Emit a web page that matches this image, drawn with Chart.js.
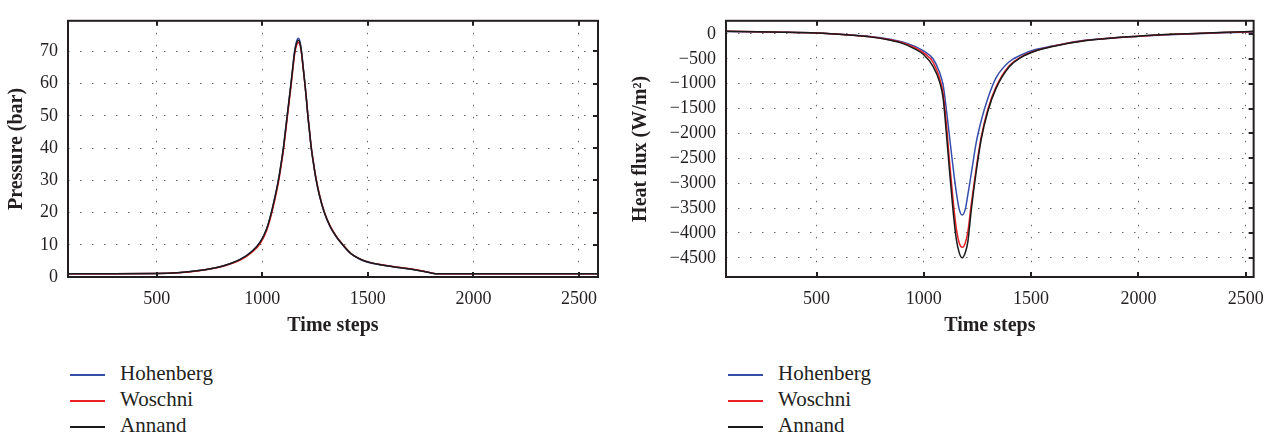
<!DOCTYPE html>
<html>
<head>
<meta charset="utf-8">
<script src="https://cdn.jsdelivr.net/npm/chart.js@4.4.1/dist/chart.umd.min.js"></script>
<style>
  html, body { margin: 0; padding: 0; background: #fff; }
  #page { position: relative; width: 1275px; height: 438px; overflow: hidden; }
  canvas { position: absolute; top: 0; }
  .legend { position: absolute; font-family: 'Liberation Serif', serif; font-size: 21px; color: #231f20; }
  .legend div { height: 26px; line-height: 26px; white-space: nowrap; }
  .legend span { display: inline-block; width: 35px; height: 2px; vertical-align: middle; margin-right: 15px; }
</style>
</head>
<body>
<div id="page">
  <canvas id="pressureChart" width="620" height="340" style="left:0px"></canvas>
  <canvas id="heatChart" width="655" height="340" style="left:620px"></canvas>

  <div class="legend" style="left:70px; top:360px">
    <div><span style="background:rgb(52,78,170)"></span>Hohenberg</div>
    <div><span style="background:rgb(230,32,38)"></span>Woschni</div>
    <div><span style="background:#1a1a1a"></span>Annand</div>
  </div>
  <div class="legend" style="left:728px; top:360px">
    <div><span style="background:rgb(52,78,170)"></span>Hohenberg</div>
    <div><span style="background:rgb(230,32,38)"></span>Woschni</div>
    <div><span style="background:#1a1a1a"></span>Annand</div>
  </div>
</div>

<script>
// Series names and colours
const seriesNames = ['Hohenberg', 'Woschni', 'Annand'];
const seriesColors = ['rgb(52,78,170)', 'rgb(230,32,38)', '#1a1a1a'];

// Tick values
const timeTicks = [500, 1000, 1500, 2000, 2500];
const pressureTicks = [0, 10, 20, 30, 40, 50, 60, 70];
const heatTicks = [0, -500, -1000, -1500, -2000, -2500, -3000, -3500, -4000, -4500];

// Pressure (bar) against time steps
const pressureSteps = [80, 300, 500, 600, 700, 800, 850, 900, 950, 990, 1020, 1040, 1060, 1075, 1090, 1100, 1110, 1118, 1128, 1136, 1145, 1153, 1162, 1171, 1178, 1186, 1194, 1202, 1210, 1216, 1224, 1232, 1243, 1254, 1270, 1292, 1320, 1350, 1380, 1420, 1460, 1500, 1560, 1620, 1700, 1760, 1800, 1830, 2590];
const pressureHohenberg = [1.0, 1.0, 1.05, 1.3, 2.0, 3.2, 4.2, 5.6, 7.9, 10.8, 14.8, 19.2, 24.8, 29.5, 35.5, 40, 45.5, 50, 55.5, 60, 65.5, 70, 73, 74.1, 73.2, 70, 65, 60, 54.5, 50, 45, 40, 35, 30.5, 25.5, 20.3, 15.8, 12.5, 10, 7.2, 5.6, 4.6, 3.8, 3.2, 2.5, 1.8, 1.25, 1.0, 1.0];
const pressureWoschni = [1.0, 1.0, 1.05, 1.3, 1.95, 3.1, 4.1, 5.4, 7.6, 10.4, 14.3, 18.6, 24.1, 28.8, 34.8, 39.2, 44.7, 49.1, 54.7, 59.1, 64.5, 69, 71.8, 72.8, 72.2, 69.3, 64.6, 59.8, 54.6, 50.2, 45.2, 40.3, 35.3, 30.8, 25.8, 20.6, 16, 12.7, 10.2, 7.3, 5.7, 4.7, 3.85, 3.25, 2.55, 1.85, 1.28, 1.0, 1.0];
const pressureAnnand = [1.0, 1.0, 1.05, 1.3, 2.0, 3.2, 4.2, 5.6, 7.9, 10.8, 14.8, 19.2, 24.8, 29.5, 35.5, 40, 45.5, 50, 55.5, 60, 65.2, 69.6, 72.5, 73.5, 72.7, 69.6, 64.8, 59.9, 54.5, 50, 45.1, 40.1, 35.1, 30.6, 25.6, 20.4, 15.9, 12.6, 10.1, 7.25, 5.65, 4.65, 3.8, 3.2, 2.5, 1.8, 1.25, 1.0, 1.0];

// Heat flux (W/m2) against time steps
const heatSteps = [78, 300, 500, 650, 750, 850, 900, 950, 1000, 1043, 1074, 1090, 1105, 1120, 1136, 1151, 1165, 1179, 1193, 1205, 1221, 1244, 1267, 1298, 1337, 1398, 1450, 1520, 1600, 1750, 2000, 2200, 2400, 2537];
const heatHohenberg = [50, 35, 19, -18, -52, -115, -160, -235, -345, -500, -780, -1030, -1519, -2077, -2672, -3170, -3527, -3640, -3527, -3233, -2806, -2185, -1750, -1300, -880, -560, -430, -315, -245, -130, -48, -5, 22, 40];
const heatWoschni = [52, 36, 19, -20, -56, -125, -175, -260, -385, -570, -900, -1200, -1800, -2580, -3330, -3900, -4200, -4288, -4200, -3980, -3420, -2700, -2080, -1520, -1060, -640, -470, -340, -250, -135, -46, -2, 26, 46];
const heatAnnand = [54, 37, 19, -22, -60, -135, -190, -285, -420, -654, -974, -1295, -2000, -2770, -3540, -4115, -4400, -4500, -4400, -4180, -3540, -2770, -2127, -1560, -1090, -660, -480, -345, -255, -140, -45, 0, 32, 52];

const tickFont = { family: "'Liberation Serif', serif", size: 18 };
const titleFont = { family: "'Liberation Serif', serif", size: 20, weight: 'bold' };
const inkColor = '#231f20';

/**
 * Draws the black frame and the short inward tick marks
 */
const frameTicks = {
    id: 'frameTicks',
    afterDraw(chart) {
        const { ctx, chartArea: a, scales } = chart;
        ctx.save();
        ctx.strokeStyle = inkColor;
        ctx.lineWidth = 2;
        ctx.beginPath();
        scales.x.ticks.forEach(t => {
            const px = Math.round(scales.x.getPixelForValue(t.value));
            ctx.moveTo(px, a.bottom); ctx.lineTo(px, a.bottom - 5);
            ctx.moveTo(px, a.top); ctx.lineTo(px, a.top + 5);
        });
        scales.y.ticks.forEach(t => {
            const py = Math.round(scales.y.getPixelForValue(t.value));
            ctx.moveTo(a.right, py); ctx.lineTo(a.right - 5, py);
        });
        ctx.stroke();
        ctx.strokeRect(a.left, a.top, a.right - a.left, a.bottom - a.top);
        ctx.restore();
    }
};

function makeDatasets(steps, seriesList) {
    return seriesList.map((values, i) => ({
        label: seriesNames[i],
        data: steps.map((x, j) => ({ x: x, y: values[j] })),
        borderColor: seriesColors[i],
        borderWidth: 1.5,
        pointRadius: 0,
        fill: false,
        cubicInterpolationMode: 'monotone',
        order: seriesList.length - i // Annand drawn on top
    }));
}

// Replace the generated ticks with the fixed tick list
function useTicks(values) {
    return axis => {
        axis.ticks = values.map(v => ({ value: v }));
    };
}

function minusLabel(value) {
    return value < 0 ? '\u2212' + Math.abs(value) : String(value);
}

function makeChart(canvas, cfg) {
    return new Chart(canvas.getContext('2d'), {
        type: 'line',
        data: { datasets: makeDatasets(cfg.steps, cfg.series) },
        options: {
            responsive: false,
            animation: false,
            layout: { padding: { left: 0, right: cfg.rightPad, top: 9, bottom: 0 } },
            plugins: { legend: { display: false }, tooltip: { enabled: false } },
            scales: {
                x: {
                    type: 'linear',
                    min: cfg.xMin,
                    max: cfg.xMax,
                    afterBuildTicks: useTicks(timeTicks),
                    afterFit: scale => { scale.height = 63; },
                    ticks: { font: tickFont, color: inkColor, padding: 11, maxRotation: 0, autoSkip: false, callback: v => String(v) },
                    grid: { color: '#666', lineWidth: 1, drawTicks: false },
                    border: { display: false, dash: [1.5, 10.5] },
                    title: { display: true, text: 'Time steps', font: titleFont, color: inkColor, padding: { top: 0, bottom: 2 } }
                },
                y: {
                    type: 'linear',
                    min: cfg.yMin,
                    max: cfg.yMax,
                    afterBuildTicks: useTicks(cfg.yTicks),
                    afterFit: scale => { scale.width = cfg.yWidth; },
                    ticks: { font: tickFont, color: inkColor, padding: 10, autoSkip: false, callback: minusLabel },
                    grid: { color: '#666', lineWidth: 1, drawTicks: false },
                    border: { display: false, dash: [1.5, 10.5] },
                    title: { display: true, text: cfg.yTitle, font: titleFont, color: inkColor, padding: { top: cfg.yTitlePad, bottom: 0 } }
                }
            }
        },
        plugins: [frameTicks]
    });
}

makeChart(document.getElementById('pressureChart'), {
    steps: pressureSteps,
    series: [pressureHohenberg, pressureWoschni, pressureAnnand],
    xMin: 80, xMax: 2590,
    yMin: 0, yMax: 79.5, yTicks: pressureTicks,
    yWidth: 68, rightPad: 22,
    yTitle: 'Pressure (bar)', yTitlePad: 5
});

makeChart(document.getElementById('heatChart'), {
    steps: heatSteps,
    series: [heatHohenberg, heatWoschni, heatAnnand],
    xMin: 78, xMax: 2537,
    yMin: -4885, yMax: 263, yTicks: heatTicks,
    yWidth: 106, rightPad: 20,
    yTitle: 'Heat flux (W/m\u00b2)', yTitlePad: 9
});
</script>
</body>
</html>
